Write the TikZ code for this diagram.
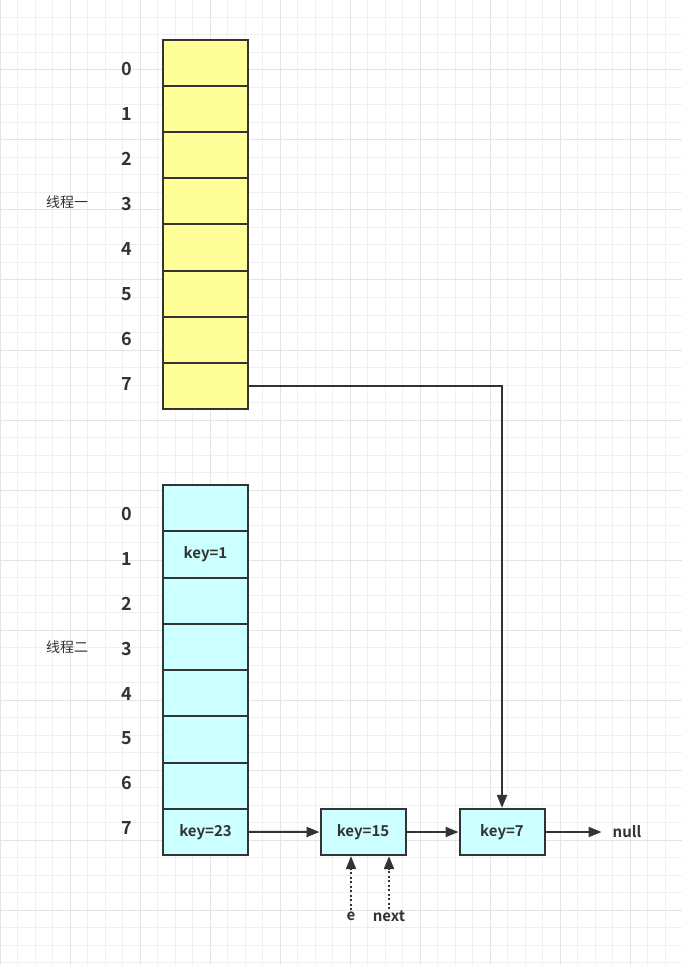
\documentclass[tikz,border=0pt]{standalone}
\usepackage{fontspec}
\setmainfont{Noto Sans CJK SC}[BoldFont={Noto Sans CJK SC Bold}]
\usetikzlibrary{arrows.meta}
\definecolor{ink}{HTML}{333333}
\definecolor{cellyellow}{HTML}{FFFF99}
\definecolor{cellcyan}{HTML}{CCFFFF}
\definecolor{gridminor}{HTML}{F0F0F0}
\definecolor{gridmajor}{HTML}{E4E4E4}
\tikzset{
  cell/.style={draw=ink, line width=2pt, minimum width=85pt, minimum height=46.25pt,
    inner sep=0pt, font=\fontsize{15}{15}\selectfont\bfseries, text=ink},
  ycell/.style={cell, fill=cellyellow, minimum height=46.125pt},
  ccell/.style={cell, fill=cellcyan},
  idx/.style={font=\fontsize{18}{18}\selectfont\bfseries, text=ink, inner sep=0pt},
  thread/.style={font=\fontsize{14}{14}\selectfont, text=ink, inner sep=0pt},
  small/.style={font=\fontsize{15}{15}\selectfont\bfseries, text=ink, inner sep=1pt},
  link/.style={draw=ink, line width=2pt, -{Triangle[length=13pt,width=10pt]}},
  ptr/.style={draw=ink, line width=2pt, dash pattern=on 2pt off 2.5pt,
    -{Triangle[length=13pt,width=10pt]}},
}
\begin{document}
\begin{tikzpicture}[x=1pt,y=-1pt]
  \useasboundingbox (0,0) rectangle (682,965);
  \fill[white] (0,0) rectangle (682,965);
  % background grid: minor lines every 17.5, major every 70
  \foreach \k in {0,...,38} {
    \draw[gridminor, line width=1pt] (17.5*\k,0) -- (17.5*\k,965);
  }
  \foreach \k in {0,...,55} {
    \draw[gridminor, line width=1pt] (0,17.5*\k) -- (682,17.5*\k);
  }
  \foreach \k in {0,...,9} {
    \draw[gridmajor, line width=1pt] (70*\k,0) -- (70*\k,965);
  }
  \foreach \k in {0,...,13} {
    \draw[gridmajor, line width=1pt] (0,70*\k) -- (682,70*\k);
  }

  % first bucket array
  \foreach \i in {0,...,7} {
    \node[ycell] (y\i) at (205.5, 40+46.125*\i+23.06) {};
    \node[idx] (yl\i) at (127, 69+45*\i) {\i};
  }
  \node[thread] (t1) at (67,202) {线程一};

  % second bucket array
  \foreach \i in {0,...,7} {
    \node[ccell] (c\i) at (205.5, 485+46.25*\i+23.125) {};
    \node[idx] (cl\i) at (127, 514+44.9*\i) {\i};
  }
  \node[font=\fontsize{15}{15}\selectfont\bfseries, text=ink] at (c1) {key=1};
  \node[font=\fontsize{15}{15}\selectfont\bfseries, text=ink] at (c7) {key=23};
  \node[thread] (t2) at (67,647) {线程二};

  % linked entries
  \node[ccell] (k15) at (363, 832) {key=15};
  \node[ccell] (k7) at (502, 832) {key=7};
  \node[small] (null) at (627, 832) {null};
  \node[small] (e) at (351, 916) {e};
  \node[small] (next) at (389, 916) {next};

  % connectors
  \draw[link] (c7.east) -- (k15.west);
  \draw[link] (k15.east) -- (k7.west);
  \draw[link, shorten >=10pt] (k7.east) -- (null.west);
  \draw[link] (y7.east) -| (k7.north);
  \draw[ptr] (e.north) -- (e.north |- k15.south);
  \draw[ptr] (next.north) -- (next.north |- k15.south);
\end{tikzpicture}
\end{document}
